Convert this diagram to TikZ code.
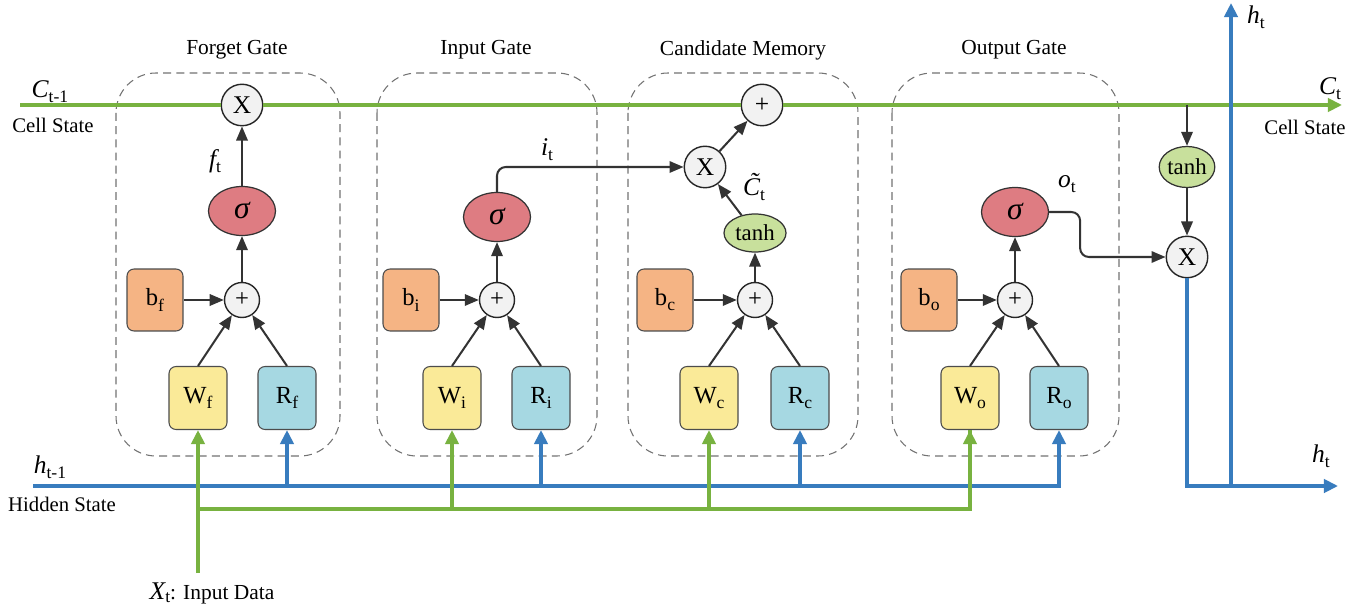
\documentclass[tikz,border=0pt]{standalone}
\usepackage{fontspec}
\setmainfont{Liberation Serif}
\usetikzlibrary{arrows.meta,shapes.geometric}

\definecolor{cellgreen}{RGB}{120,178,64}
\definecolor{hidblue}{RGB}{56,124,190}
\definecolor{sigred}{RGB}{222,124,130}
\definecolor{tanhgreen}{RGB}{200,224,156}
\definecolor{biasorange}{RGB}{245,180,132}
\definecolor{wyellow}{RGB}{250,234,152}
\definecolor{rcyan}{RGB}{166,216,226}
\definecolor{opfill}{RGB}{242,242,242}

\newcommand\setfs[1]{\fontsize{#1}{#1}\selectfont}
\newcommand\lsub[2][10]{\raisebox{-0.45ex}{\upshape\fontsize{#1}{#1}\selectfont #2}}

\tikzset{
  gatebox/.style={draw=black!55, line width=0.6pt, dash pattern=on 4.5pt off 3pt, rounded corners=0.8cm},
  opcirc/.style={circle, draw=black!85, fill=opfill, line width=0.8pt, minimum size=0.83cm, inner sep=0pt, font=\setfs{14.5}},
  pluscirc/.style={opcirc, minimum size=0.7cm, font=\setfs{14}},
  signode/.style={ellipse, draw=black!80, fill=sigred, line width=0.7pt, minimum width=1.34cm, minimum height=0.98cm, inner sep=0pt, font=\setfs{18}\itshape},
  tanhnode/.style={ellipse, draw=black!80, fill=tanhgreen, line width=0.7pt, minimum width=1.24cm, minimum height=0.76cm, inner sep=0pt, font=\setfs{13}},
  param/.style={rectangle, rounded corners=4pt, draw=black!70, line width=0.6pt, minimum width=1.16cm, minimum height=1.26cm, inner sep=0pt, font=\setfs{14}},
  biasbox/.style={param, fill=biasorange, minimum width=1.12cm, minimum height=1.24cm},
  wbox/.style={param, fill=wyellow},
  rbox/.style={param, fill=rcyan},
  arr/.style={draw=black!80, line width=1.15pt, -{Triangle[length=8pt,width=6.5pt]}},
  cell/.style={draw=cellgreen, line width=2.1pt},
  hid/.style={draw=hidblue, line width=2.1pt},
  inp/.style={draw=cellgreen, line width=2.1pt},
  ctip/.style={-{Triangle[length=8pt,width=7.5pt]}},
  title/.style={font=\setfs{12.2}},
  lbl/.style={font=\setfs{11.8}},
  sym/.style={font=\setfs{14.5}\itshape, inner sep=0pt},
}

\begin{document}
\begin{tikzpicture}[x=0.02cm, y=-0.02cm]
\useasboundingbox[fill=white] (0,0) rectangle (1364,611);

% gate frames
\draw[gatebox] (116,73) rectangle (340,456);
\draw[gatebox] (377,73) rectangle (597,456);
\draw[gatebox] (628,73) rectangle (858,456);
\draw[gatebox] (892,73) rectangle (1119,456);

\node[title] (tF) at (237,50) {Forget Gate};
\node[title] (tI) at (486,50) {Input Gate};
\node[title] (tC) at (743,50) {Candidate Memory};
\node[title] (tO) at (1014,50) {Output Gate};

% free ends of the state lines
\coordinate (cin)  at (20,105);
\coordinate (cout) at (1342,105);
\coordinate (tap)  at (1187,105);
\coordinate (hin)  at (33,486);
\coordinate (hout) at (1338,486);
\coordinate (hbase) at (1231,486);
\coordinate (htop) at (1231,3);
\coordinate (xin)  at (198,573);
\coordinate (gbus) at (198,509);

% forget gate
\node[opcirc]   (fX) at (242,105) {X};
\node[signode]  (sf) at (242,211) {σ};
\node[pluscirc] (pf) at (242,300) {+};
\node[biasbox]  (bf) at (155,300) {b\lsub{f}};
\node[wbox]     (Wf) at (198,398) {W\lsub{f}};
\node[rbox]     (Rf) at (287,398) {R\lsub{f}};

% input gate
\node[signode]  (si) at (497,217) {σ};
\node[pluscirc] (pi) at (497,300) {+};
\node[biasbox]  (bi) at (411,300) {b\lsub{i}};
\node[wbox]     (Wi) at (452,398) {W\lsub{i}};
\node[rbox]     (Ri) at (541,398) {R\lsub{i}};

% candidate memory
\node[opcirc]   (cP) at (762,105) {+};
\node[opcirc]   (cX) at (705,167) {X};
\node[tanhnode] (ct) at (755,233) {tanh};
\node[pluscirc] (pc) at (755,300) {+};
\node[biasbox]  (bc) at (665,300) {b\lsub{c}};
\node[wbox]     (Wc) at (709,398) {W\lsub{c}};
\node[rbox]     (Rc) at (800,398) {R\lsub{c}};

% output gate
\node[signode]  (so) at (1015,212) {σ};
\node[pluscirc] (po) at (1015,300) {+};
\node[biasbox]  (bo) at (929,300) {b\lsub{o}};
\node[wbox]     (Wo) at (970,398) {W\lsub{o}};
\node[rbox]     (Ro) at (1059,398) {R\lsub{o}};

% output stage
\node[tanhnode, minimum width=0.98cm, minimum height=0.82cm] (rt) at (1187,167) {tanh};
\node[opcirc]   (oX) at (1187,257) {X};

% cell state
\draw[cell] (cin) -- (fX);
\draw[cell] (fX) -- (cP);
\draw[cell, ctip] (cP) -- (cout);

% hidden state
\draw[hid, ctip] (hin) -| (Ro.south);
\foreach \r in {Rf,Ri,Rc}
  \draw[hid, ctip] (\r.south |- hin) -- (\r.south);
\draw[hid, ctip] (oX.south) |- (hout);
\draw[hid, ctip] (hbase) -- (htop);

% input data
\draw[inp, ctip] (xin) -- (Wf.south);
\draw[inp] (gbus) -| (Wo.south);
\foreach \w in {Wi,Wc,Wo}
  \draw[inp, ctip] (\w.south |- gbus) -- (\w.south);

% gate internals
\foreach \g in {f,i,c,o} {
  \draw[arr] (b\g.east) -- (p\g);
  \draw[arr] (W\g.north) -- (p\g);
  \draw[arr] (R\g.north) -- (p\g);
}
\draw[arr] (pf) -- (sf);
\draw[arr] (sf) -- (fX);
\draw[arr] (pi) -- (si);
\draw[arr, rounded corners=5pt] (si.north) |- (cX.west);
\draw[arr] (pc) -- (ct);
\draw[arr] (ct) -- (cX);
\draw[arr] (cX) -- (cP);
\draw[arr] (po) -- (so);
\draw[arr, rounded corners=5pt] (so.east) -- ++(31,0) |- (oX.west);
\draw[arr] (tap) -- (rt);
\draw[arr] (rt) -- (oX);

% labels
\node[sym] (lCin) at (50,92) {C\lsub{t-1}};
\node[lbl] (lCS1) at (53,125) {Cell State};
\node[sym] (lCout) at (1330,89) {C\lsub{t}};
\node[lbl] (lCS2) at (1305,127) {Cell State};
\node[sym] (lhin) at (50,467) {h\lsub{t-1}};
\node[lbl] (lHS) at (62,504) {Hidden State};
\node[sym] (lht1) at (1256,17) {h\lsub{t}};
\node[sym] (lht2) at (1321,456) {h\lsub{t}};
\node[inner sep=0pt] (lX) at (212,593) {{\setfs{14.5}\itshape X}\lsub{t}{\setfs{12.2}: Input Data}};
\node[sym] (lf) at (215,161) {f\lsub{t}};
\node[sym] (li) at (547,150) {i\lsub{t}};
\node[sym] (lo) at (1067,184) {o\lsub{t}};
\node[sym] (lCt) at (754,187) {\~{C}\lsub{t}};

\end{tikzpicture}
\end{document}
